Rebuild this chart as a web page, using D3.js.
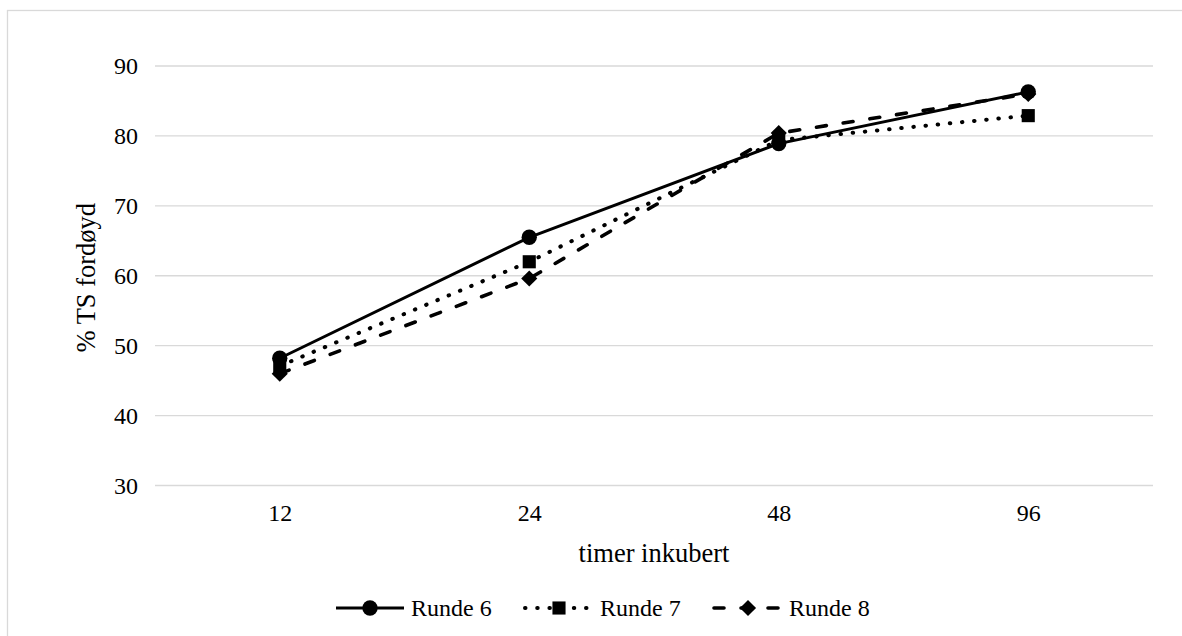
<!DOCTYPE html>
<html lang="no">
<head>
    <meta charset="UTF-8">
    <title>% TS fordøyd</title>
    <script src="https://d3js.org/d3.v7.min.js"></script>
    <style>
        body {
            margin: 0;
            background: #fff;
        }
        svg text {
            font-family: 'Liberation Serif', 'Times New Roman', serif;
            fill: #000;
        }
    </style>
</head>
<body>
    <div id="chart"></div>

    <script>
        // Chart data
        const hours = ['12', '24', '48', '96'];
        const runde6 = [48.2, 65.5, 78.9, 86.3];
        const runde7 = [47.1, 62.0, 79.4, 82.9];
        const runde8 = [46.0, 59.6, 80.4, 86.0];
        const yTicks = [30, 40, 50, 60, 70, 80, 90];
        const seriesNames = ['Runde 6', 'Runde 7', 'Runde 8'];

        const width = 1182;
        const height = 636;
        const margin = { top: 66, right: 29, bottom: 150.5, left: 155 };
        const serif = "'Liberation Serif', 'Times New Roman', serif";

        const svg = d3.select('#chart')
            .append('svg')
            .attr('width', width)
            .attr('height', height);

        // outer chart border (runs off the right and bottom edge)
        svg.append('rect')
            .attr('x', 7.5)
            .attr('y', 10.5)
            .attr('width', width)
            .attr('height', height)
            .attr('fill', 'none')
            .attr('stroke', '#d9d9d9')
            .attr('stroke-width', 1.3);

        const x = d3.scalePoint()
            .domain(hours)
            .range([margin.left, width - margin.right])
            .padding(0.5);

        const y = d3.scaleLinear()
            .domain([30, 90])
            .range([height - margin.bottom, margin.top]);

        // gridlines
        svg.append('g')
            .selectAll('line')
            .data(yTicks)
            .enter().append('line')
            .attr('x1', margin.left)
            .attr('x2', width - margin.right)
            .attr('y1', d => y(d))
            .attr('y2', d => y(d))
            .attr('stroke', '#d9d9d9')
            .attr('stroke-width', 1.3);

        // y axis labels
        const yAxis = svg.append('g')
            .attr('transform', `translate(${margin.left - 17},0)`)
            .call(d3.axisLeft(y).tickValues(yTicks).tickSize(0).tickPadding(0))
            .attr('font-family', serif)
            .attr('font-size', 24);
        yAxis.select('.domain').remove();

        // x axis labels
        const xAxis = svg.append('g')
            .attr('transform', `translate(0,${y(30)})`)
            .call(d3.axisBottom(x).tickSize(0).tickPadding(18))
            .attr('font-family', serif)
            .attr('font-size', 24);
        xAxis.select('.domain').remove();

        // axis titles
        svg.append('text')
            .attr('x', (margin.left + width - margin.right) / 2)
            .attr('y', 562)
            .attr('text-anchor', 'middle')
            .attr('font-size', 26.5)
            .text('timer inkubert');

        svg.append('text')
            .attr('transform', `translate(95,${(y(30) + y(90)) / 2 + 2}) rotate(-90)`)
            .attr('text-anchor', 'middle')
            .attr('font-size', 26.5)
            .text('% TS fordøyd');

        // series styles
        const styles = [
            { values: runde6, dash: null, cap: 'butt', width: 3, symbol: d3.symbolCircle, size: 185, rotate: 0 },
            { values: runde7, dash: '0.5 11.7', cap: 'round', width: 4, symbol: d3.symbolSquare, size: 172, rotate: 0 },
            { values: runde8, dash: '10 17', cap: 'round', width: 3.6, symbol: d3.symbolSquare, size: 130, rotate: 45 }
        ];

        const line = d3.line()
            .x((d, i) => x(hours[i]))
            .y(d => y(d));

        styles.forEach(s => {
            const g = svg.append('g');
            g.append('path')
                .datum(s.values)
                .attr('d', line)
                .attr('fill', 'none')
                .attr('stroke', '#000')
                .attr('stroke-width', s.width)
                .attr('stroke-linecap', s.cap)
                .attr('stroke-linejoin', 'round')
                .attr('stroke-dasharray', s.dash);

            g.selectAll('path.marker')
                .data(s.values)
                .enter().append('path')
                .attr('class', 'marker')
                .attr('d', d3.symbol(s.symbol, s.size))
                .attr('transform', (d, i) => `translate(${x(hours[i])},${y(d)}) rotate(${s.rotate})`)
                .attr('fill', '#000');
        });

        // legend
        const legendY = 608;
        const legendStart = 336;
        const legendStep = 189;
        const legendLine = 68;

        seriesNames.forEach((name, i) => {
            const s = styles[i];
            const x0 = legendStart + i * legendStep;
            const g = svg.append('g');
            g.append('line')
                .attr('x1', x0)
                .attr('x2', x0 + legendLine)
                .attr('y1', legendY)
                .attr('y2', legendY)
                .attr('stroke', '#000')
                .attr('stroke-width', s.width)
                .attr('stroke-linecap', s.cap)
                .attr('stroke-dasharray', s.dash);
            g.append('path')
                .attr('d', d3.symbol(s.symbol, s.size))
                .attr('transform', `translate(${x0 + legendLine / 2},${legendY}) rotate(${s.rotate})`)
                .attr('fill', '#000');
            g.append('text')
                .attr('x', x0 + legendLine + 7)
                .attr('y', legendY)
                .attr('dy', '0.35em')
                .attr('font-size', 24)
                .text(name);
        });
    </script>
</body>
</html>
